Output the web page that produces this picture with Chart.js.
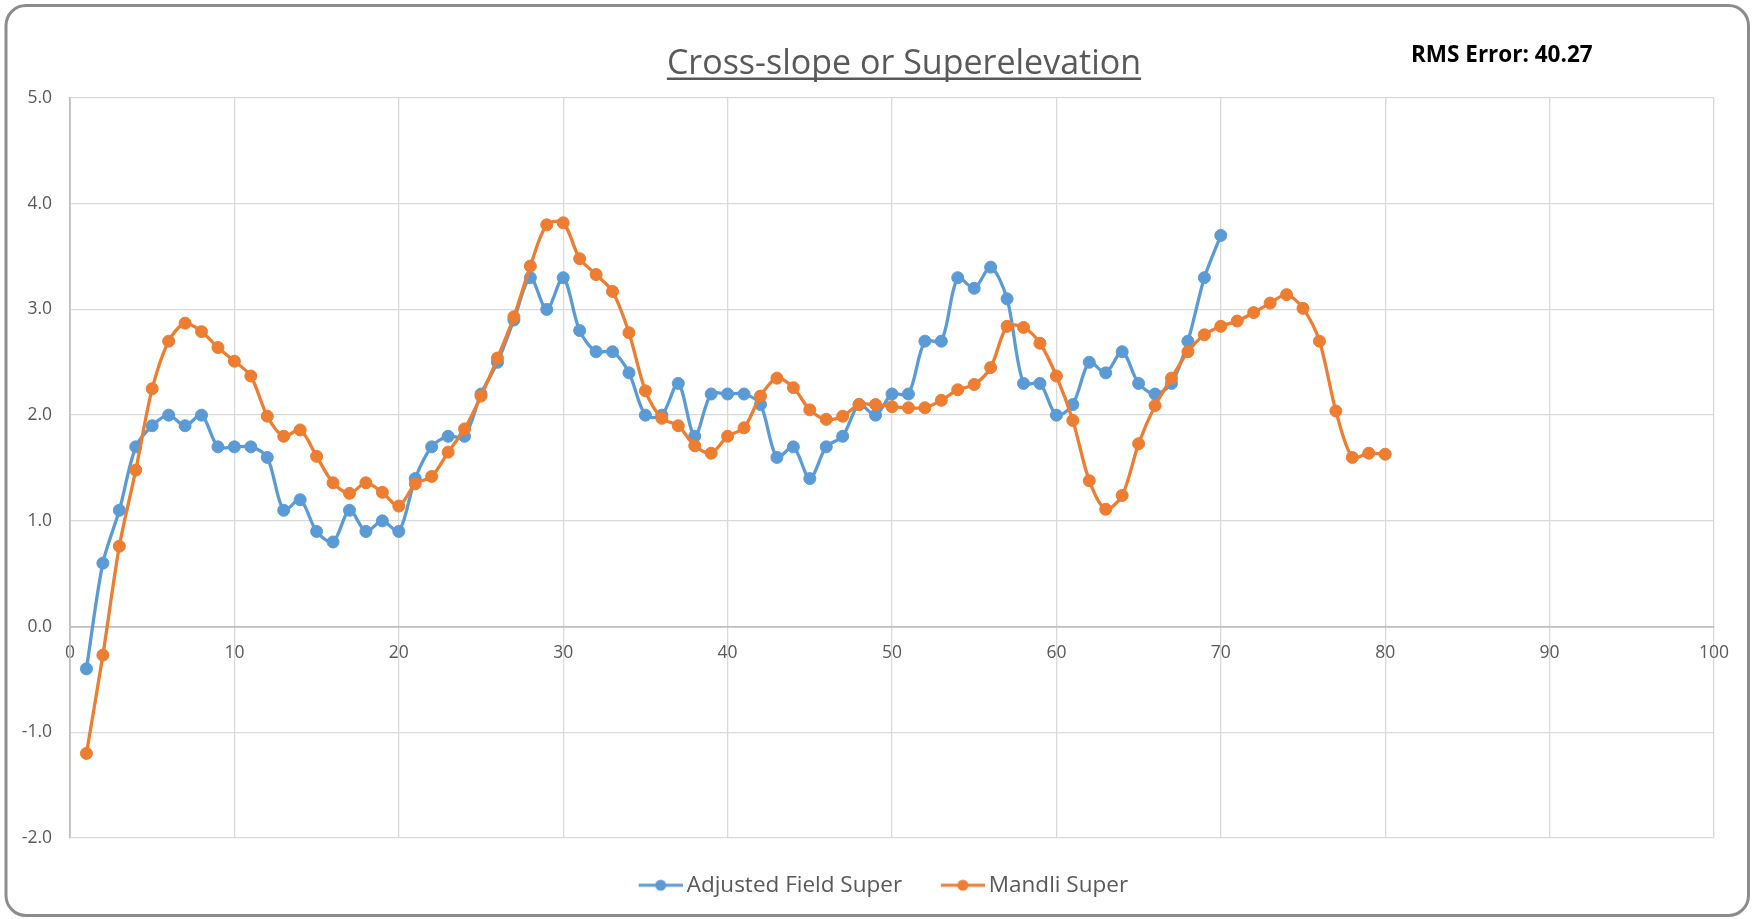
<!DOCTYPE html>
<html>
<head>
<meta charset="utf-8">
<title>Cross-slope or Superelevation</title>
<script src="https://cdn.jsdelivr.net/npm/chart.js@4.4.1/dist/chart.umd.min.js"></script>
<style>
  html, body { margin: 0; padding: 0; background: #fff; }
  canvas { display: block; }
</style>
</head>
<body>
<canvas id="chart" width="1753" height="919"></canvas>
<script>
const chartTitle = 'Cross-slope or Superelevation';
const rmsLabel = 'RMS Error: 40.27';

const stations = [
  1, 2, 3, 4, 5, 6, 7, 8, 9, 10,
  11, 12, 13, 14, 15, 16, 17, 18, 19, 20,
  21, 22, 23, 24, 25, 26, 27, 28, 29, 30,
  31, 32, 33, 34, 35, 36, 37, 38, 39, 40,
  41, 42, 43, 44, 45, 46, 47, 48, 49, 50,
  51, 52, 53, 54, 55, 56, 57, 58, 59, 60,
  61, 62, 63, 64, 65, 66, 67, 68, 69, 70,
  71, 72, 73, 74, 75, 76, 77, 78, 79, 80
];

const adjustedFieldSuper = [
  -0.4, 0.6, 1.1, 1.7, 1.9, 2.0, 1.9, 2.0, 1.7, 1.7,
  1.7, 1.6, 1.1, 1.2, 0.9, 0.8, 1.1, 0.9, 1.0, 0.9,
  1.4, 1.7, 1.8, 1.8, 2.2, 2.5, 2.9, 3.3, 3.0, 3.3,
  2.8, 2.6, 2.6, 2.4, 2.0, 2.0, 2.3, 1.8, 2.2, 2.2,
  2.2, 2.1, 1.6, 1.7, 1.4, 1.7, 1.8, 2.1, 2.0, 2.2,
  2.2, 2.7, 2.7, 3.3, 3.2, 3.4, 3.1, 2.3, 2.3, 2.0,
  2.1, 2.5, 2.4, 2.6, 2.3, 2.2, 2.3, 2.7, 3.3, 3.7
];

const mandliSuper = [
  -1.20, -0.27, 0.76, 1.48, 2.25, 2.70, 2.87, 2.79, 2.64, 2.51,
  2.37, 1.99, 1.80, 1.86, 1.61, 1.36, 1.26, 1.36, 1.27, 1.14,
  1.35, 1.42, 1.65, 1.87, 2.18, 2.54, 2.93, 3.41, 3.80, 3.82,
  3.48, 3.33, 3.17, 2.78, 2.23, 1.97, 1.90, 1.71, 1.64, 1.80,
  1.88, 2.18, 2.35, 2.26, 2.05, 1.96, 1.99, 2.10, 2.10, 2.08,
  2.07, 2.07, 2.14, 2.24, 2.29, 2.45, 2.84, 2.83, 2.68, 2.37,
  1.95, 1.38, 1.11, 1.24, 1.73, 2.09, 2.35, 2.60, 2.76, 2.84,
  2.89, 2.97, 3.06, 3.14, 3.01, 2.70, 2.04, 1.60, 1.64, 1.63
];

const xRange = [0, 100];
const xStep = 10;
const yRange = [-2, 5];
const yStep = 1;

const BLUE = '#5b9bd5';
const ORANGE = '#ed7d31';
const TEXT = '#595959';
const FONT = "'Open Sans', 'DejaVu Sans', sans-serif";

function toPoints(values) {
  return values.map((v, i) => ({ x: stations[i], y: v }));
}

// small "line with a dot" swatch for the legend
function legendSwatch(color) {
  const c = document.createElement('canvas');
  c.width = 54;
  c.height = 14;
  const g = c.getContext('2d');
  g.strokeStyle = color;
  g.lineWidth = 3;
  g.beginPath();
  g.moveTo(10, 7);
  g.lineTo(54, 7);
  g.stroke();
  g.fillStyle = color;
  g.beginPath();
  g.arc(32, 7, 5.5, 0, Math.PI * 2);
  g.fill();
  return c;
}

const frame = {
  id: 'frame',
  afterLayout(chart) {
    // legend is centred under the plot, not the whole canvas
    if (chart.legend) chart.legend.left += 50;
  },
  beforeDraw(chart) {
    const ctx = chart.ctx;
    ctx.save();
    ctx.fillStyle = '#fff';
    ctx.fillRect(0, 0, chart.width, chart.height);
    ctx.restore();
  },
  afterDraw(chart) {
    const ctx = chart.ctx;
    ctx.save();
    // title, underlined
    ctx.font = '34px ' + FONT;
    ctx.fillStyle = TEXT;
    ctx.textAlign = 'center';
    ctx.textBaseline = 'alphabetic';
    const cx = 904;
    ctx.fillText(chartTitle, cx, 74);
    const w = ctx.measureText(chartTitle).width;
    ctx.fillRect(cx - w / 2, 77.5, w, 2.5);

    ctx.font = 'bold 22.5px ' + FONT;
    ctx.fillStyle = '#000';
    ctx.textAlign = 'left';
    ctx.fillText(rmsLabel, 1411, 62);

    // rounded outer border
    ctx.strokeStyle = '#8c8c8c';
    ctx.lineWidth = 3;
    ctx.beginPath();
    ctx.roundRect(6, 5.5, chart.width - 10.5, chart.height - 9, 20);
    ctx.stroke();
    ctx.restore();
  }
};

new Chart(document.getElementById('chart'), {
  type: 'line',
  data: {
    datasets: [
      {
        label: 'Adjusted Field Super',
        data: toPoints(adjustedFieldSuper),
        borderColor: BLUE,
        backgroundColor: BLUE,
        pointBackgroundColor: BLUE,
        pointBorderColor: BLUE,
        order: 1
      },
      {
        label: 'Mandli Super',
        data: toPoints(mandliSuper),
        borderColor: ORANGE,
        backgroundColor: ORANGE,
        pointBackgroundColor: ORANGE,
        pointBorderColor: ORANGE,
        order: 0
      }
    ]
  },
  options: {
    responsive: false,
    animation: false,
    layout: { padding: { top: 98, left: 0, right: 39, bottom: 12.5 } },
    elements: {
      line: { borderWidth: 3.3, tension: 0.3, fill: false },
      point: { radius: 6, borderWidth: 1, hoverRadius: 6 }
    },
    scales: {
      x: {
        type: 'linear',
        position: { y: 0 },
        min: xRange[0],
        max: xRange[1],
        ticks: {
          stepSize: xStep,
          color: TEXT,
          padding: 16,
          font: { family: FONT, size: 17.5 }
        },
        grid: { color: '#d9d9d9', lineWidth: 1.3, drawTicks: false },
        border: { color: '#bfbfbf', width: 1.8 }
      },
      y: {
        type: 'linear',
        position: 'left',
        min: yRange[0],
        max: yRange[1],
        afterFit(scale) { scale.width = 70; },
        ticks: {
          stepSize: yStep,
          color: TEXT,
          padding: 18,
          font: { family: FONT, size: 17.5 },
          callback: v => v.toFixed(1)
        },
        grid: { color: '#d9d9d9', lineWidth: 1.3, drawTicks: false },
        border: { color: '#bfbfbf', width: 1.8 }
      }
    },
    plugins: {
      title: { display: false },
      tooltip: { enabled: false },
      legend: {
        position: 'bottom',
        labels: {
          color: TEXT,
          font: { family: FONT, size: 22.5 },
          padding: 36,
          usePointStyle: true,
          pointStyleWidth: 39.5,
          sort: (a, b) => a.datasetIndex - b.datasetIndex,
          generateLabels(chart) {
            const items = Chart.defaults.plugins.legend.labels.generateLabels(chart);
            items.forEach(item => {
              item.pointStyle = legendSwatch(chart.data.datasets[item.datasetIndex].borderColor);
            });
            return items;
          }
        }
      }
    }
  },
  plugins: [frame]
});
</script>
</body>
</html>
